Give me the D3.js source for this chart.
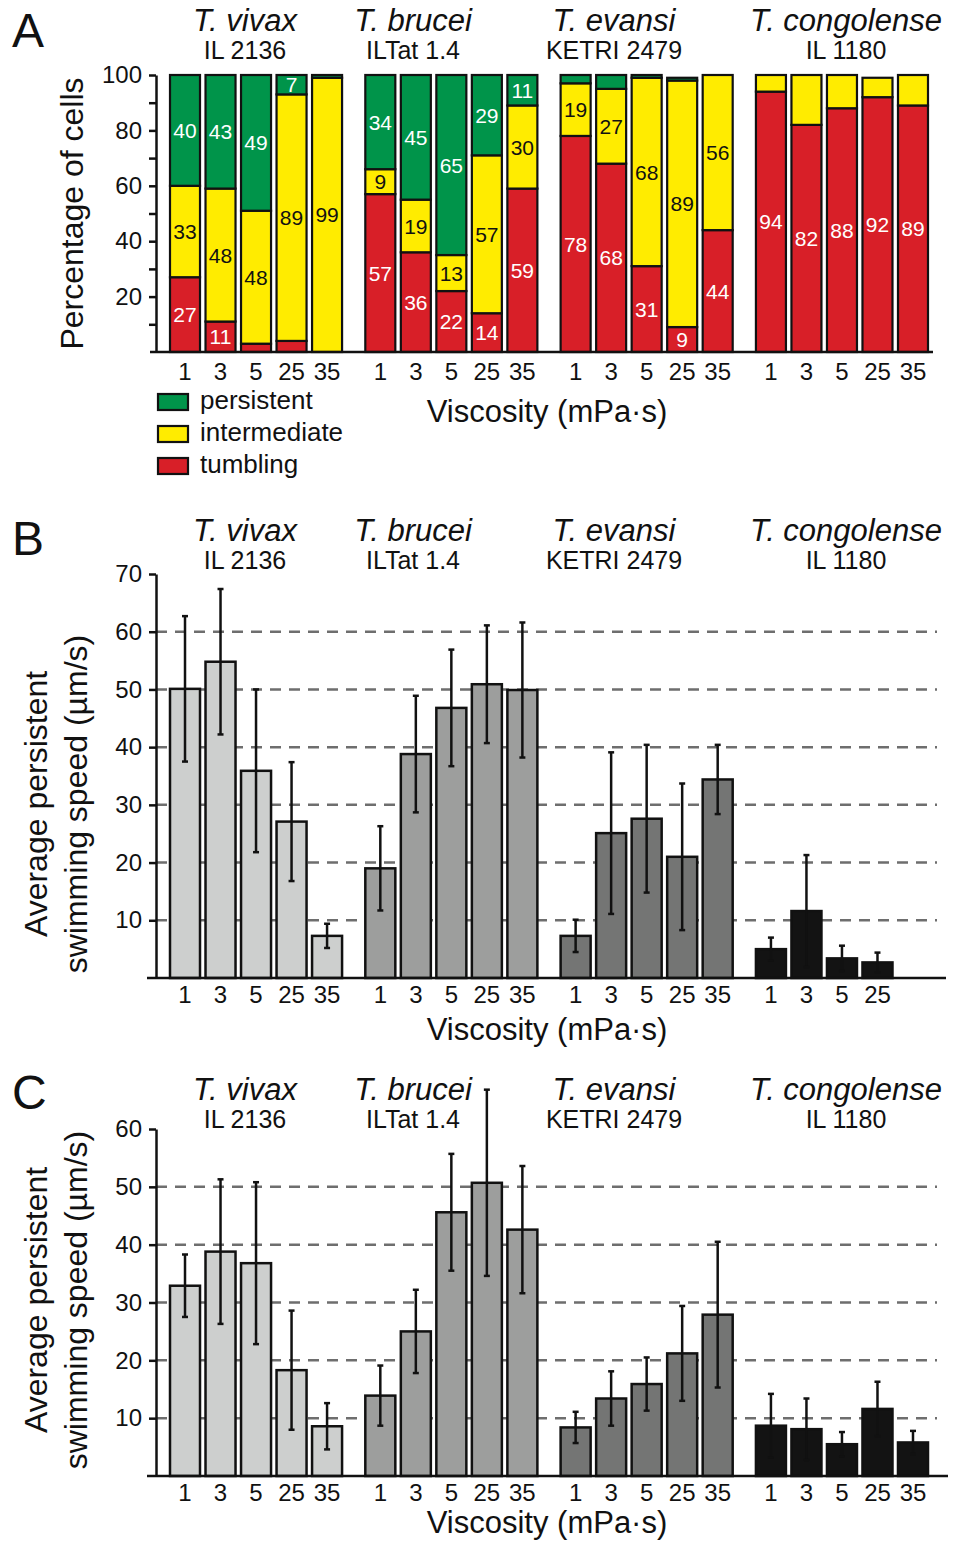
<!DOCTYPE html>
<html>
<head>
<meta charset="utf-8">
<script src="https://cdn.jsdelivr.net/npm/d3@7"></script>
<style>
  body { margin: 0; background: #fff; }
  text { font-family: "Liberation Sans", Arial, Helvetica, sans-serif; fill: #111; }
</style>
</head>
<body>
<script>
// Trypanosome motility vs viscosity

const species = ["T. vivax", "T. brucei", "T. evansi", "T. congolense"];
const strains = ["IL 2136", "ILTat 1.4", "KETRI 2479", "IL 1180"];
const viscosities = ["1", "3", "5", "25", "35"];
const motility = ["tumbling", "intermediate", "persistent"];
const legendOrder = ["persistent", "intermediate", "tumbling"];

// Panel A: percentage of cells (rows = species, cols = viscosity)
const tumblingPct = [
    [27, 11, 3, 4, 0],
    [57, 36, 22, 14, 59],
    [78, 68, 31, 9, 44],
    [94, 82, 88, 92, 89]
];
const intermediatePct = [
    [33, 48, 48, 89, 99],
    [9, 19, 13, 57, 30],
    [19, 27, 68, 89, 56],
    [6, 18, 12, 7, 11]
];
const persistentPct = [
    [40, 43, 49, 7, 1],
    [34, 45, 65, 29, 11],
    [3, 5, 1, 1, 0],
    [0, 0, 0, 0, 0]
];

// Panel B: average persistent swimming speed (um/s), mean and error
const speedB = [
    [50.1, 54.8, 35.9, 27.1, 7.3],
    [19.0, 38.8, 46.8, 50.9, 49.9],
    [7.3, 25.1, 27.6, 21.0, 34.4],
    [5.0, 11.6, 3.4, 2.7, null]
];
const errB = [
    [12.6, 12.6, 14.1, 10.3, 2.1],
    [7.3, 10.1, 10.1, 10.2, 11.7],
    [2.8, 14.0, 12.8, 12.7, 6.0],
    [2.0, 9.7, 2.2, 1.7, null]
];

// Panel C: average persistent swimming speed (um/s), mean and error
const speedC = [
    [32.9, 38.8, 36.8, 18.3, 8.6],
    [13.9, 25.0, 45.6, 50.7, 42.6],
    [8.4, 13.4, 15.9, 21.2, 27.9],
    [8.7, 8.1, 5.5, 11.6, 5.8]
];
const errC = [
    [5.4, 12.5, 14.0, 10.3, 4.0],
    [5.2, 7.2, 10.1, 16.1, 11.0],
    [2.7, 4.7, 4.6, 8.2, 12.6],
    [5.5, 5.3, 2.1, 4.7, 2.0]
];

const width = 957, height = 1542;
const motilityColor = { persistent: "#00944a", intermediate: "#ffec00", tumbling: "#d81f28" };
const labelColor = { persistent: "#fff", intermediate: "#111", tumbling: "#fff" };
const speciesGray = ["#cdcfce", "#9d9e9d", "#747574", "#131313"];
const titleX = [245, 413, 614, 846];
const axisX = 156;

const svg = d3.select("body")
    .append("svg")
    .attr("width", width)
    .attr("height", height);

svg.append("rect").attr("width", width).attr("height", height).attr("fill", "#fff");

// Shared x scales: group per species, bar per viscosity
const x = d3.scaleBand().domain(species).range([170, 928]).paddingInner(0.119);
const xv = d3.scaleBand().domain(viscosities).range([0, x.bandwidth()]).paddingInner(0.155);

function drawHeader(letter, letterY, titleY) {
    svg.append("text")
        .attr("x", 12).attr("y", letterY)
        .style("font-size", "48px")
        .text(letter);
    species.forEach((s, i) => {
        svg.append("text")
            .attr("x", titleX[i]).attr("y", titleY)
            .attr("text-anchor", "middle")
            .style("font-size", "31px").style("font-style", "italic")
            .text(s);
        svg.append("text")
            .attr("x", titleX[i]).attr("y", titleY + 28)
            .attr("text-anchor", "middle")
            .style("font-size", "25px")
            .text(strains[i]);
    });
}

function drawXLabels(y0, labelY, titleY, present) {
    species.forEach((s, i) => {
        viscosities.forEach((v, j) => {
            if (present && !present(i, j)) return;
            svg.append("text")
                .attr("x", x(s) + xv(v) + xv.bandwidth() / 2)
                .attr("y", labelY)
                .attr("text-anchor", "middle")
                .style("font-size", "24px")
                .text(v);
        });
    });
    svg.append("text")
        .attr("x", 547).attr("y", titleY)
        .attr("text-anchor", "middle")
        .style("font-size", "31px")
        .text("Viscosity (mPa·s)");
}

function styleAxis(g) {
    g.select(".domain").attr("stroke", "#111").attr("stroke-width", 2.5);
    g.selectAll(".tick line").attr("stroke", "#111").attr("stroke-width", 2.5);
    g.selectAll(".tick text")
        .style("font-size", "24px")
        .style("font-family", "'Liberation Sans', Arial, sans-serif")
        .attr("fill", "#111")
        .attr("dx", "-1px");
}

// ---------- Panel A ----------
drawHeader("A", 47, 31);

const yA = d3.scaleLinear().domain([0, 100]).range([352, 75]).clamp(true);

svg.append("g")
    .attr("transform", `translate(${axisX},0)`)
    .call(d3.axisLeft(yA)
        .tickValues(d3.range(10, 101, 10))
        .tickSize(7).tickSizeOuter(0).tickPadding(6)
        .tickFormat(d => d % 20 === 0 ? d : ""))
    .call(styleAxis);

const pctRows = [];
species.forEach((s, i) => {
    viscosities.forEach((v, j) => {
        pctRows.push({
            species: s, visc: v,
            tumbling: tumblingPct[i][j],
            intermediate: intermediatePct[i][j],
            persistent: persistentPct[i][j]
        });
    });
});
const stacked = d3.stack().keys(motility)(pctRows);

stacked.forEach(layer => {
    const key = layer.key;
    layer.forEach(seg => {
        const d = seg.data;
        const val = d[key];
        if (val <= 0) return;
        const bx = x(d.species) + xv(d.visc);
        svg.append("rect")
            .attr("x", bx)
            .attr("y", yA(seg[1]))
            .attr("width", xv.bandwidth())
            .attr("height", yA(seg[0]) - yA(seg[1]))
            .attr("fill", motilityColor[key])
            .attr("stroke", "#111")
            .attr("stroke-width", 2.2);
        const hidden = val < 7 || (d.species === "T. congolense" && key === "intermediate");
        if (!hidden) {
            svg.append("text")
                .attr("x", bx + xv.bandwidth() / 2)
                .attr("y", (yA(seg[0]) + yA(Math.min(seg[1], 100))) / 2)
                .attr("dy", "0.36em")
                .attr("text-anchor", "middle")
                .style("font-size", "21px")
                .style("fill", labelColor[key])
                .text(val);
        }
    });
});

svg.append("line")
    .attr("x1", 150).attr("x2", 933)
    .attr("y1", yA(0)).attr("y2", yA(0))
    .attr("stroke", "#111").attr("stroke-width", 2.5);

svg.append("text")
    .attr("transform", `translate(83,${(yA(0) + yA(100)) / 2}) rotate(-90)`)
    .attr("text-anchor", "middle")
    .style("font-size", "32px")
    .text("Percentage of cells");

drawXLabels(yA(0), 380, 422);

// Legend
legendOrder.forEach((k, i) => {
    svg.append("rect")
        .attr("x", 158).attr("y", 394 + i * 32)
        .attr("width", 30).attr("height", 16)
        .attr("fill", motilityColor[k])
        .attr("stroke", "#111").attr("stroke-width", 2.2);
    svg.append("text")
        .attr("x", 200).attr("y", 409 + i * 32)
        .style("font-size", "26px")
        .text(k);
});

// ---------- Panels B and C ----------
function drawSpeedPanel(opts) {
    const { letter, letterY, titleY, yMax, yTop, yBottom, means, errs, baseX2, gridX2, tickY, visY, ylabY } = opts;
    drawHeader(letter, letterY, titleY);

    const y = d3.scaleLinear().domain([0, yMax]).range([yBottom, yTop]);

    // dashed grid
    d3.range(10, yMax, 10).forEach(t => {
        svg.append("line")
            .attr("x1", axisX).attr("x2", gridX2)
            .attr("y1", y(t)).attr("y2", y(t))
            .attr("stroke", "#6e6e6e").attr("stroke-width", 2.5)
            .attr("stroke-dasharray", "11,8");
    });

    svg.append("g")
        .attr("transform", `translate(${axisX},0)`)
        .call(d3.axisLeft(y)
            .tickValues(d3.range(10, yMax + 1, 10))
            .tickSize(7).tickSizeOuter(0).tickPadding(6))
        .call(styleAxis);

    species.forEach((s, i) => {
        viscosities.forEach((v, j) => {
            const m = means[i][j];
            if (m == null) return;
            const bx = x(s) + xv(v);
            svg.append("rect")
                .attr("x", bx).attr("y", y(m))
                .attr("width", xv.bandwidth())
                .attr("height", y(0) - y(m))
                .attr("fill", speciesGray[i])
                .attr("stroke", "#111").attr("stroke-width", 2.5);
        });
    });

    species.forEach((s, i) => {
        viscosities.forEach((v, j) => {
            const m = means[i][j], e = errs[i][j];
            if (m == null) return;
            const cx = x(s) + xv(v) + xv.bandwidth() / 2;
            const lo = Math.max(0, m - e), hi = m + e;
            svg.append("line")
                .attr("x1", cx).attr("x2", cx)
                .attr("y1", y(lo)).attr("y2", y(hi))
                .attr("stroke", "#111").attr("stroke-width", 2.5);
            [lo, hi].forEach(val => {
                svg.append("line")
                    .attr("x1", cx - 3).attr("x2", cx + 3)
                    .attr("y1", y(val)).attr("y2", y(val))
                    .attr("stroke", "#111").attr("stroke-width", 2.5);
            });
        });
    });

    svg.append("line")
        .attr("x1", 147).attr("x2", baseX2)
        .attr("y1", y(0)).attr("y2", y(0))
        .attr("stroke", "#111").attr("stroke-width", 2.5);

    const ylab = svg.append("text")
        .attr("transform", `translate(0,${ylabY}) rotate(-90)`)
        .attr("text-anchor", "middle")
        .style("font-size", "32px");
    ylab.append("tspan").attr("x", 0).attr("y", 47).text("Average persistent");
    ylab.append("tspan").attr("x", 0).attr("y", 87).text("swimming speed (µm/s)");

    drawXLabels(y(0), tickY, visY, (i, j) => means[i][j] != null);
}

drawSpeedPanel({
    letter: "B", letterY: 555, titleY: 541,
    yMax: 70, yTop: 574, yBottom: 978,
    means: speedB, errs: errB,
    baseX2: 946, gridX2: 937,
    tickY: 1003, visY: 1040, ylabY: 804
});

drawSpeedPanel({
    letter: "C", letterY: 1109, titleY: 1100,
    yMax: 60, yTop: 1129, yBottom: 1476,
    means: speedC, errs: errC,
    baseX2: 948, gridX2: 937,
    tickY: 1501, visY: 1533, ylabY: 1300
});
</script>
</body>
</html>
